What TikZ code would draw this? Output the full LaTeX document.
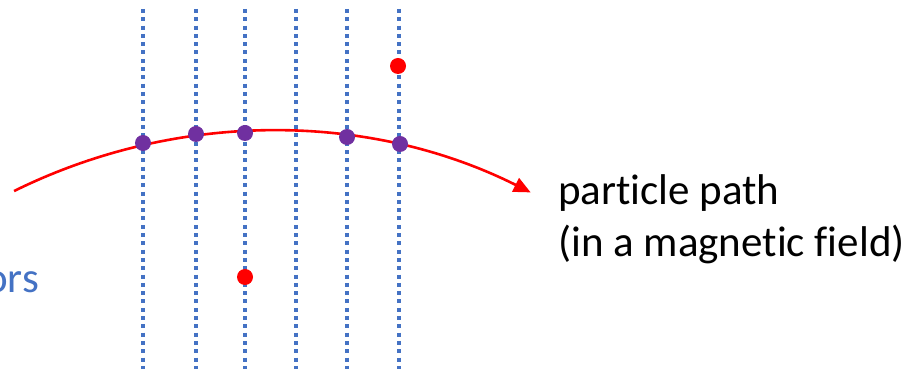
\documentclass[tikz,border=0pt]{standalone}
\usepackage{fontspec}
\setmainfont{Carlito}[Ligatures={NoCommon}]
\usetikzlibrary{arrows.meta}
\definecolor{detblue}{HTML}{4472C4}
\definecolor{hitpurple}{HTML}{7030A0}
\definecolor{noisered}{HTML}{FF0000}
\tikzset{
  x=1pt,y=1pt,
  detline/.style={detblue,line width=4pt,dash pattern=on 4pt off 4.3pt},
  hit/.style={circle,fill=hitpurple,inner sep=0pt,minimum size=16pt},
  noise/.style={circle,fill=noisered,inner sep=0pt,minimum size=16pt},
  trackpath/.style={noisered,line width=2.6pt,-{Triangle[length=17pt,width=15pt]}},
  lbl/.style={font=\fontsize{43}{52}\selectfont,inner sep=0pt,align=left}
}
\begin{document}
\begin{tikzpicture}
\useasboundingbox (0,0) rectangle (904,369);
% detector planes
\foreach \n/\xx in {a/143,b/196,c/245,d/296,e/347,f/399}{
  \coordinate (top\n) at (\xx,360);
  \coordinate (bot\n) at (\xx,0);
  \draw[detline] (top\n) -- (bot\n);
}
% particle path: arc centre (271,-342), radius 580
\coordinate (pstart) at ({271+580*cos(116.3)},{-342+580*sin(116.3)});
\draw[trackpath] (pstart) arc[start angle=116.3,end angle=63.4,radius=580];
% hits
\node[hit] (h1) at (143,226) {};
\node[hit] (h2) at (196,235) {};
\node[hit] (h3) at (245,236) {};
\node[hit] (h4) at (347,232) {};
\node[hit] (h5) at (400,225) {};
% noise hits
\node[noise] (n1) at (398,303) {};
\node[noise] (n2) at (245,92) {};
% labels
\node[lbl,anchor=base west] (pp) at (558,112) {particle path\\(in a magnetic field)};
\node[lbl,anchor=base west,text=detblue] (det) at (-15,76) {ors};
\end{tikzpicture}
\end{document}
